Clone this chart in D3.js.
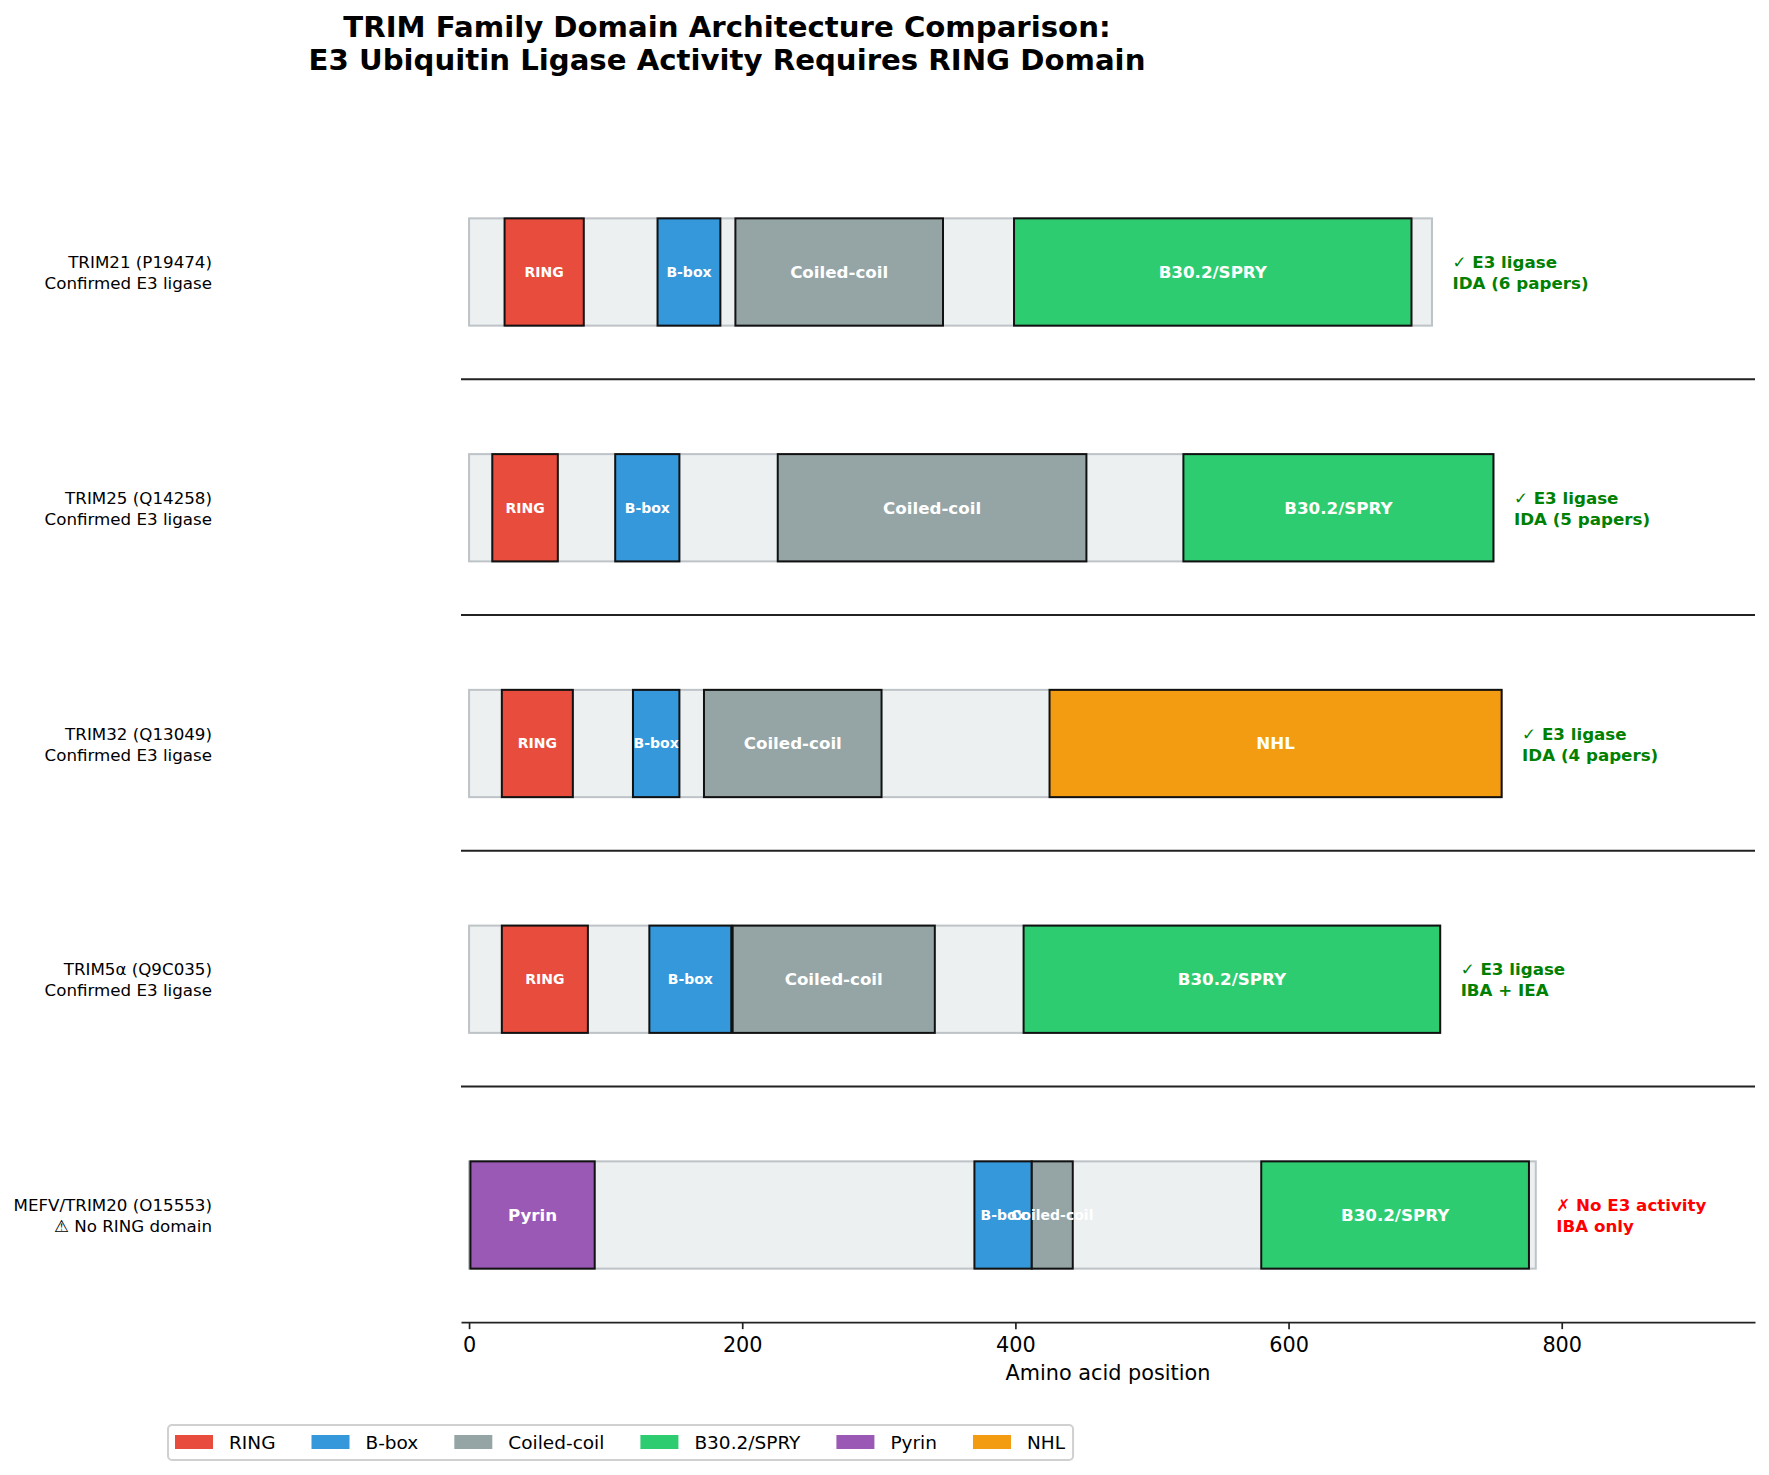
<!DOCTYPE html>
<html>
<head>
<meta charset="utf-8">
<script src="https://cdn.jsdelivr.net/npm/d3@7"></script>
<style>
  body { margin: 0; background: #fff; }
  svg { display: block; font-family: "DejaVu Sans", sans-serif; }
</style>
</head>
<body>
<svg id="chart"></svg>
<script>
// rows, top to bottom
const proteins = ['TRIM21 (P19474)', 'TRIM25 (Q14258)', 'TRIM32 (Q13049)', 'TRIM5α (Q9C035)', 'MEFV/TRIM20 (O15553)'];
const statuses = ['Confirmed E3 ligase', 'Confirmed E3 ligase', 'Confirmed E3 ligase', 'Confirmed E3 ligase', '⚠ No RING domain'];
const lengths = [705, 750, 756, 711, 781];
const verdicts = ['✓ E3 ligase', '✓ E3 ligase', '✓ E3 ligase', '✓ E3 ligase', '✗ No E3 activity'];
const evidence = ['IDA (6 papers)', 'IDA (5 papers)', 'IDA (4 papers)', 'IBA + IEA', 'IBA only'];
const hasE3 = [true, true, true, true, false];

// [domain, start, end]
const trim21Domains = [['RING', 26, 84], ['B-box', 138, 184], ['Coiled-coil', 195, 347], ['B30.2/SPRY', 399, 690]];
const trim25Domains = [['RING', 17, 65], ['B-box', 107, 154], ['Coiled-coil', 226, 452], ['B30.2/SPRY', 523, 750]];
const trim32Domains = [['RING', 24, 76], ['B-box', 120, 154], ['Coiled-coil', 172, 302], ['NHL', 425, 756]];
const trim5Domains = [['RING', 24, 87], ['B-box', 132, 192], ['Coiled-coil', 193, 341], ['B30.2/SPRY', 406, 711]];
const mefvDomains = [['Pyrin', 1, 92], ['B-box', 370, 412], ['Coiled-coil', 412, 442], ['B30.2/SPRY', 580, 776]];
const domainsByRow = [trim21Domains, trim25Domains, trim32Domains, trim5Domains, mefvDomains];

const domainTypes = ['RING', 'B-box', 'Coiled-coil', 'B30.2/SPRY', 'Pyrin', 'NHL'];
const domainColors = ['#e74c3c', '#3498db', '#95a5a6', '#2ecc71', '#9b59b6', '#f39c12'];
const xTicks = [0, 200, 400, 600, 800];

const width = 1769;
const height = 1475;

const svg = d3.select('#chart').attr('width', width).attr('height', height).attr('viewBox', [0, 0, width, height]);

const color = d3.scaleOrdinal().domain(domainTypes).range(domainColors);

const x = d3.scaleLinear().domain([-5.9, 941.5]).range([461, 1755]);

const y = d3.scalePoint().domain(proteins).range([272, 1215]);
const step = y.step();
const barH = step * 0.455;
const sepOffset = step * 0.4545;

const rows = proteins.map((name, i) => ({
  name,
  status: statuses[i],
  length: lengths[i],
  verdict: verdicts[i],
  evidence: evidence[i],
  ok: hasE3[i],
  domains: domainsByRow[i].map(d => ({ type: d[0], start: d[1], end: d[2] }))
}));

// title
svg
  .append('text')
  .attr('x', 727)
  .attr('text-anchor', 'middle')
  .attr('font-weight', 'bold')
  .attr('font-size', 29.2)
  .selectAll('tspan')
  .data(['TRIM Family Domain Architecture Comparison:', 'E3 Ubiquitin Ligase Activity Requires RING Domain'])
  .join('tspan')
  .attr('x', 727)
  .attr('y', (d, i) => 37 + i * 32.5)
  .text(d => d);

// separators
svg
  .append('g')
  .attr('stroke', '#222')
  .attr('stroke-width', 2)
  .selectAll('line')
  .data(proteins.slice(0, -1))
  .join('line')
  .attr('x1', x.range()[0])
  .attr('x2', x.range()[1])
  .attr('y1', d => y(d) + sepOffset)
  .attr('y2', d => y(d) + sepOffset);

const row = svg
  .append('g')
  .selectAll('g')
  .data(rows)
  .join('g');

// backbone
row
  .append('rect')
  .attr('x', x(0))
  .attr('width', d => x(d.length) - x(0))
  .attr('y', d => y(d.name) - barH / 2)
  .attr('height', barH)
  .attr('fill', '#ecf0f1')
  .attr('stroke', '#bdc3c7')
  .attr('stroke-width', 2);

// domains
row
  .selectAll('rect.domain')
  .data(d => d.domains.map(dm => ({ ...dm, name: d.name })))
  .join('rect')
  .attr('class', 'domain')
  .attr('x', d => x(d.start))
  .attr('width', d => x(d.end) - x(d.start))
  .attr('y', d => y(d.name) - barH / 2)
  .attr('height', barH)
  .attr('fill', d => color(d.type))
  .attr('stroke', '#111')
  .attr('stroke-width', 2);

row
  .selectAll('text.dlabel')
  .data(d => d.domains.map(dm => ({ ...dm, name: d.name })))
  .join('text')
  .attr('class', 'dlabel')
  .attr('x', d => x((d.start + d.end) / 2))
  .attr('y', d => y(d.name) + (d.end - d.start > 80 ? 16.7 : 14) * 0.35)
  .attr('text-anchor', 'middle')
  .attr('fill', 'white')
  .attr('font-weight', 'bold')
  .attr('font-size', d => (d.end - d.start > 80 ? 16.7 : 14))
  .text(d => d.type);

// left labels
row
  .append('text')
  .attr('text-anchor', 'end')
  .attr('font-size', 16.7)
  .attr('fill', '#000')
  .selectAll('tspan')
  .data(d => [d.name, d.status].map(t => ({ t, name: d.name })))
  .join('tspan')
  .attr('x', 212)
  .attr('y', (d, i) => y(d.name) - 4 + i * 21)
  .text(d => d.t);

// right annotations
row
  .append('text')
  .attr('font-size', 16.7)
  .attr('font-weight', 'bold')
  .attr('fill', d => (d.ok ? 'green' : 'red'))
  .selectAll('tspan')
  .data(d => [d.verdict, d.evidence].map(t => ({ t, name: d.name, length: d.length })))
  .join('tspan')
  .attr('x', d => x(d.length + 15))
  .attr('y', (d, i) => y(d.name) - 4 + i * 21)
  .text(d => d.t);

// x axis
const axisY = y(proteins[proteins.length - 1]) + sepOffset;
const xAxis = g =>
  g
    .attr('transform', `translate(0,${axisY})`)
    .call(d3.axisBottom(x).tickValues(xTicks).tickSize(7).tickPadding(8).tickSizeOuter(0))
    .call(g => g.select('.domain').attr('stroke', '#222').attr('stroke-width', 1.7))
    .call(g => g.selectAll('.tick line').attr('stroke', '#222').attr('stroke-width', 1.7))
    .call(g =>
      g
        .selectAll('.tick text')
        .attr('font-size', 20.8)
        .attr('font-family', 'DejaVu Sans')
        .attr('fill', '#000')
    )
    .call(g =>
      g
        .append('text')
        .attr('x', (x.range()[0] + x.range()[1]) / 2)
        .attr('y', 58)
        .attr('fill', '#000')
        .attr('font-size', 20.8)
        .attr('font-family', 'DejaVu Sans')
        .attr('text-anchor', 'middle')
        .text('Amino acid position')
    );
svg.append('g').call(xAxis);

// legend
const legend = svg.append('g');
const legendBox = legend
  .append('rect')
  .attr('y', 1425)
  .attr('height', 35)
  .attr('rx', 4)
  .attr('fill', 'white')
  .attr('fill-opacity', 0.8)
  .attr('stroke', '#d0d0d0')
  .attr('stroke-width', 2);

let lx = 175;
domainTypes.forEach(t => {
  legend
    .append('rect')
    .attr('x', lx)
    .attr('y', 1435)
    .attr('width', 38)
    .attr('height', 14)
    .attr('fill', color(t));
  const txt = legend
    .append('text')
    .attr('x', lx + 38 + 16)
    .attr('y', 1449)
    .attr('font-size', 18.5)
    .attr('fill', '#000')
    .text(t);
  lx += 38 + 16 + txt.node().getComputedTextLength() + 36;
});
legendBox.attr('x', 168).attr('width', lx - 36 + 8 - 168);
</script>
</body>
</html>
